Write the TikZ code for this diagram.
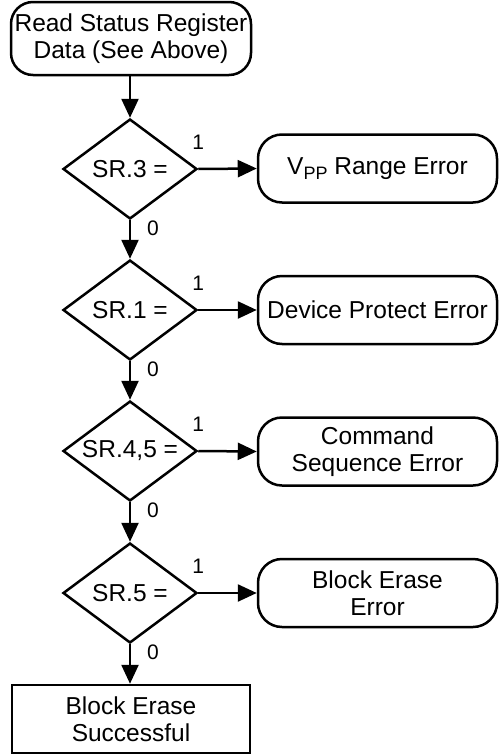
\documentclass[tikz,border=0pt]{standalone}
\usepackage{fontspec}
\setmainfont{Liberation Sans}
\usetikzlibrary{shapes.geometric,arrows.meta}
\newcommand{\dtxt}[1]{\makebox[0pt][c]{#1}}
\begin{document}
\begin{tikzpicture}[x=1pt,y=-1pt,
  every node/.style={font=\fontsize{24.5}{27}\selectfont},
  term/.style={draw,line width=2.5pt,rounded corners=24pt,minimum width=239pt,minimum height=68pt,align=center,inner sep=0pt},
  dec/.style={draw,line width=2.5pt,diamond,minimum width=134pt,minimum height=100pt,inner sep=0pt},
  endbox/.style={draw,line width=2.5pt,minimum width=238pt,minimum height=68pt,align=center,inner sep=0pt},
  flow/.style={line width=2.5pt,-{Triangle[length=19pt,width=17pt]}},
  lab/.style={font=\fontsize{21}{21}\selectfont,inner sep=0pt}]
\useasboundingbox (0,0) rectangle (500,755);
\node[term,minimum width=240pt,minimum height=73pt,rounded corners=22pt] (start) at (131,38.5) {Read Status Register\\Data (See Above)};
\node[dec] (d1) at (130,169) {\dtxt{SR.3 =}};
\node[dec] (d2) at (130,310) {\dtxt{SR.1 =}};
\node[dec] (d3) at (130,451) {\dtxt{SR.4,5 =}};
\node[dec] (d4) at (130,593) {\dtxt{SR.5 =}};
\node[term] (e1) at (377.5,168.5) {V\raisebox{-5pt}{\fontsize{18}{18}\selectfont PP} Range Error};
\node[term] (e2) at (377.5,310) {Device Protect Error};
\node[term] (e3) at (377.5,451.5) {Command\\Sequence Error};
\node[term] (e4) at (377.5,593) {Block Erase\\Error};
\node[endbox] (ok) at (131,719) {Block Erase\\Successful};
\draw[flow] (start.south -| d1.north) -- (d1.north);
\foreach \a/\b in {d1/d2,d2/d3,d3/d4} {\draw[flow] (\a.south) -- (\b.north);}
\draw[flow] (d4.south) -- (d4.south |- ok.north);
\foreach \d/\e in {d1/e1,d2/e2,d3/e3,d4/e4} {
  \draw[flow] (\d.east) -- (\e.west);
  \node[lab] (one\d) at ([shift={(0,-27)}]\d.east) {1};
  \node[lab] (zero\d) at ([shift={(23,8)}]\d.south) {0};
}
\end{tikzpicture}
\end{document}
